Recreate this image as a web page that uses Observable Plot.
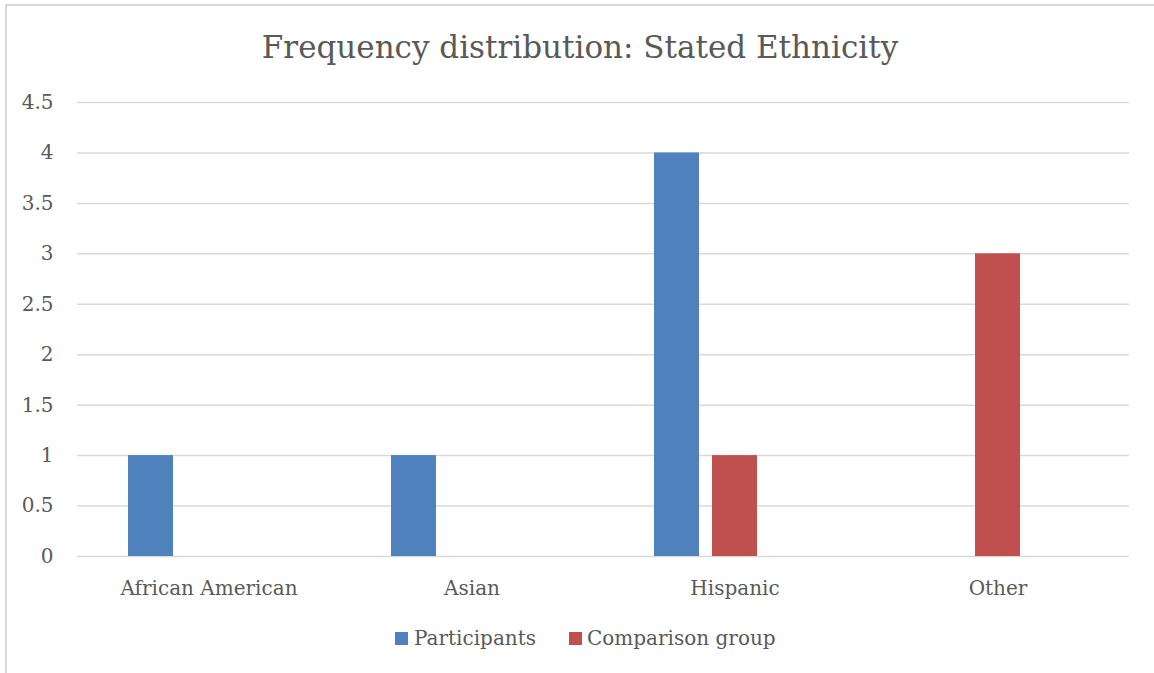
<!DOCTYPE html>
<html>
<head>
<meta charset="utf-8">
<script src="https://cdn.jsdelivr.net/npm/d3@7"></script>
<script src="https://cdn.jsdelivr.net/npm/@observablehq/plot@0.6"></script>
<style>
  html, body { margin: 0; padding: 0; background: #fff; }
  #chart { position: relative; width: 1154px; height: 673px; overflow: hidden; font-family: "DejaVu Serif", serif; color: #595959; }
  #frame { position: absolute; left: 5px; top: 4px; width: 1200px; height: 700px; border-top: 2px solid #d9d9d9; border-left: 2px solid #d9d9d9; box-sizing: border-box; }
  #title { position: absolute; left: 0; top: 32px; width: 1160px; text-align: center; font-size: 31px; line-height: 31px; white-space: nowrap; }
  #plot { position: absolute; left: 0; top: 0; }
  #legend { position: absolute; left: 0; top: 626px; width: 1154px; height: 24px; }
  .key { position: absolute; top: 6px; width: 13px; height: 13px; }
  .lab { position: absolute; top: 0; font-size: 20px; line-height: 24px; white-space: nowrap; }
</style>
</head>
<body>
<div id="chart">
  <div id="frame"></div>
  <div id="title"></div>
  <div id="plot"></div>
  <div id="legend"></div>
</div>
<script>
// Stated ethnicity counts for the two groups
const titleText = "Frequency distribution: Stated Ethnicity";
const categories = ["African American", "Asian", "Hispanic", "Other"];
const series = ["Participants", "Comparison group"];
const participants = [1, 1, 4, 0];
const comparison = [0, 0, 1, 3];
const colors = ["#4F81BD", "#C0504D"];
const yTicks = [0, 0.5, 1, 1.5, 2, 2.5, 3, 3.5, 4, 4.5];

const rows = [];
categories.forEach((c, i) => {
  rows.push({category: c, series: series[0], value: participants[i]});
  rows.push({category: c, series: series[1], value: comparison[i]});
});

document.getElementById("title").textContent = titleText;

// An empty third slot in each cluster keeps the spreadsheet-style bar spacing
const slots = [...series, " "];

const plot = Plot.plot({
  width: 1154,
  height: 606,
  marginLeft: 77,
  marginRight: 25,
  marginTop: 102,
  marginBottom: 50,
  style: {fontFamily: "DejaVu Serif", fontSize: "20px", color: "#595959", background: "transparent"},
  fx: {domain: categories, padding: 0, tickSize: 0, tickPadding: 24, label: null},
  x: {domain: slots, paddingInner: 0.22, paddingOuter: 0.86, axis: null},
  y: {domain: [0, 4.5], ticks: yTicks, tickFormat: d => String(d), tickSize: 0, tickPadding: 24, label: null},
  color: {domain: series, range: colors},
  marks: [
    Plot.ruleY(yTicks, {stroke: "#d9d9d9", strokeWidth: 1.5}),
    Plot.barY(rows.filter(d => d.value > 0), {fx: "category", x: "series", y: "value", fill: "series"})
  ]
});
document.getElementById("plot").appendChild(plot);

// Legend below the plot
const legend = document.getElementById("legend");
const keyX = [395, 569];
const labX = [414, 587];
series.forEach((s, i) => {
  const k = document.createElement("div");
  k.className = "key";
  k.style.left = keyX[i] + "px";
  k.style.background = colors[i];
  legend.appendChild(k);
  const t = document.createElement("div");
  t.className = "lab";
  t.style.left = labX[i] + "px";
  t.textContent = s;
  legend.appendChild(t);
});
</script>
</body>
</html>
